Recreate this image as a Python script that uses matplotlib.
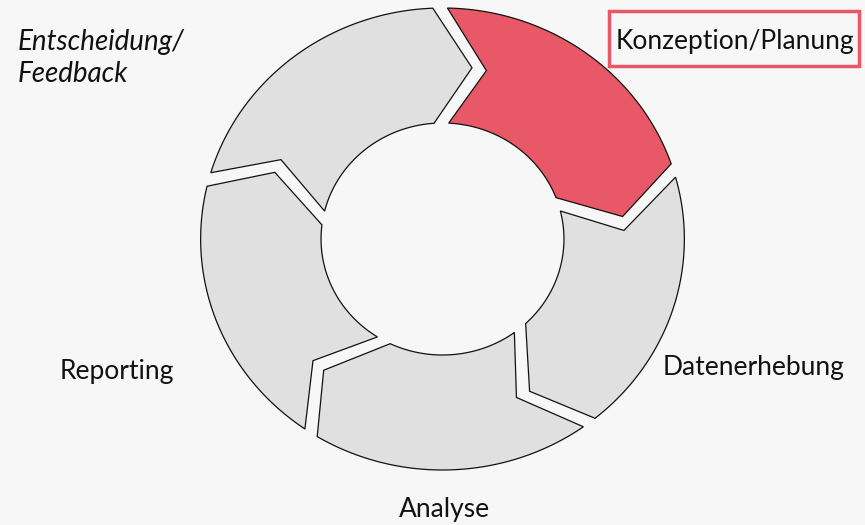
# Kreislauf-Diagramm: fuenf Pfeilsegmente im Uhrzeigersinn
import numpy as np
import matplotlib.pyplot as plt
from matplotlib.patches import Polygon, Rectangle

# Phasen (im Uhrzeigersinn, beginnend oben links)
phasen = ["Entscheidung/\nFeedback", "Konzeption/Planung", "Datenerhebung", "Analyse", "Reporting"]
aktiv = [False, True, False, False, False]

# Grenzwinkel (Grad) der Segmentenden, aussen und innen
grenzen_aussen = [166.8, 92.3, 19.0, -50.9, -121.2, -193.2]
grenzen_innen = [173.0, 94.0, 20.9, -46.8, -115.5, -187.0]

# Geometrie in Pixeln
cx, cy = 442.5, 239.0
sx = 1.047           # leichte horizontale Streckung
r_aussen = 231.0
r_innen = 116.0
r_mitte = (r_aussen + r_innen) / 2
spitze = 12.5        # Grad, wie weit die Pfeilspitze vorsteht
spalt = 14.0         # Breite der Luecke in Pixeln

grau = "#e0e0e0"
rot = "#e85867"
hintergrund = "#f7f7f7"


def punkt(winkel, r):
    a = np.radians(winkel)
    return cx + sx * r * np.cos(a), cy - r * np.sin(a)


def segment(k):
    t_out = grenzen_aussen[k] - np.degrees(spalt / r_aussen)
    t_in = grenzen_innen[k] - np.degrees(spalt / r_innen)
    t_mid = (grenzen_aussen[k] + grenzen_innen[k]) / 2 - spitze - np.degrees(spalt / r_mitte)
    l_out = grenzen_aussen[k + 1]
    l_in = grenzen_innen[k + 1]
    l_mid = (l_out + l_in) / 2 - spitze

    pts = []
    for w in np.linspace(t_out, l_out, 80):
        pts.append(punkt(w, r_aussen))
    pts.append(punkt(l_mid, r_mitte))
    for w in np.linspace(l_in, t_in, 60):
        pts.append(punkt(w, r_innen))
    pts.append(punkt(t_mid, r_mitte))
    return pts


def plot():
    fig = plt.figure(figsize=(8.65, 5.25), dpi=100)
    fig.patch.set_facecolor(hintergrund)
    ax = fig.add_axes([0, 0, 1, 1])
    ax.set_facecolor(hintergrund)
    ax.set_xlim(0, 865)
    ax.set_ylim(525, 0)
    ax.axis("off")

    for k in range(len(phasen)):
        farbe = rot if aktiv[k] else grau
        ax.add_patch(Polygon(segment(k), closed=True, facecolor=farbe,
                             edgecolor="#111111", linewidth=0.9))

    schrift = dict(family="Lato", color="#111111")
    ax.text(18, 58, phasen[0], ha="left", va="center", style="italic",
            fontsize=20, linespacing=1.28, **schrift)
    ax.text(735, 42, phasen[1], ha="center", va="center", fontsize=19, **schrift)
    ax.add_patch(Rectangle((609, 11), 250, 55, fill=False, edgecolor=rot, linewidth=2.5))
    ax.text(754, 368, phasen[2], ha="center", va="center", fontsize=19, **schrift)
    ax.text(444, 510, phasen[3], ha="center", va="center", fontsize=19, **schrift)
    ax.text(117, 372, phasen[4], ha="center", va="center", fontsize=19, **schrift)

    fig.savefig("out.png", dpi=100, facecolor=hintergrund)


if __name__ == "__main__":
    plot()
